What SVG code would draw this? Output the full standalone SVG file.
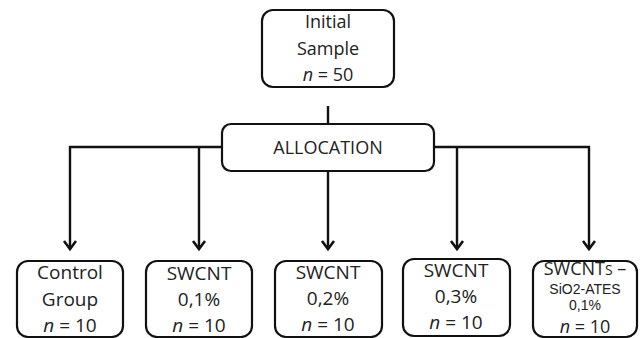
<svg xmlns="http://www.w3.org/2000/svg" width="640" height="338" viewBox="0 0 640 338">
<defs>
<style>
.box{fill:#fff;stroke:#111;stroke-width:2.2}
.t{font-family:"Open Sans","Liberation Sans",sans-serif;fill:#222;text-anchor:middle}
.s{font-family:"Liberation Sans","Open Sans",sans-serif;font-size:14px;fill:#222;text-anchor:middle}
.f18{font-size:18px}
.f19{font-size:19px}
.con{fill:none;stroke:#111;stroke-width:2.4}
.head{fill:none;stroke:#111;stroke-width:2.6;stroke-linejoin:miter}
</style>
</defs>
<g id="connectors">
<line class="con" x1="328" y1="106" x2="328" y2="124"/>
<polyline class="con" points="222,147 70,147 70,249"/>
<line class="con" x1="199" y1="147" x2="199" y2="249"/>
<line class="con" x1="328" y1="171" x2="328" y2="249"/>
<polyline class="con" points="434,147 589,147 589,249"/>
<line class="con" x1="457" y1="147" x2="457" y2="249"/>
<polyline class="head" points="64,241 70,249 76,241"/>
<polyline class="head" points="193,241 199,249 205,241"/>
<polyline class="head" points="322,241 328,249 334,241"/>
<polyline class="head" points="451,241 457,249 463,241"/>
<polyline class="head" points="583,241 589,249 595,241"/>
</g>
<g id="initial">
<rect class="box" x="262" y="10" width="132" height="77" rx="11"/>
<text class="t f18" x="328" y="28">Initial</text>
<text class="t f18" x="328" y="55">Sample</text>
<text class="t f18" x="328" y="81"><tspan font-style="italic">n</tspan> = 50</text>
</g>
<g id="allocation">
<rect class="box" x="222" y="124" width="212" height="47" rx="9"/>
<text class="t f18" x="328" y="154">ALLOCATION</text>
</g>
<g id="control">
<rect class="box" x="17" y="261" width="106" height="76" rx="11"/>
<text class="t f19" x="70" y="279">Control</text>
<text class="t f19" x="70" y="306">Group</text>
<text class="t f19" x="70" y="332"><tspan font-style="italic">n</tspan> = 10</text>
</g>
<g id="swcnt01">
<rect class="box" x="146" y="261" width="106" height="76" rx="11"/>
<text class="t f19" x="199" y="280">SWCNT</text>
<text class="t f19" x="199" y="306">0,1%</text>
<text class="t f19" x="199" y="332"><tspan font-style="italic">n</tspan> = 10</text>
</g>
<g id="swcnt02">
<rect class="box" x="275" y="261" width="107" height="76" rx="11"/>
<text class="t f19" x="328" y="279">SWCNT</text>
<text class="t f19" x="328" y="305">0,2%</text>
<text class="t f19" x="328" y="331"><tspan font-style="italic">n</tspan> = 10</text>
</g>
<g id="swcnt03">
<rect class="box" x="403" y="259" width="107" height="77" rx="11"/>
<text class="t f19" x="456" y="277">SWCNT</text>
<text class="t f19" x="456" y="303">0,3%</text>
<text class="t f19" x="456" y="329"><tspan font-style="italic">n</tspan> = 10</text>
</g>
<g id="swcnts-sio2">
<rect class="box" x="533" y="261" width="104" height="76" rx="11"/>
<text class="t f18" x="585" y="275">SWCNT<tspan font-size="14px">S</tspan> –</text>
<text class="s" x="585" y="294">SiO2-ATES</text>
<text class="s" x="585" y="310">0,1%</text>
<text class="t f18" x="585" y="333"><tspan font-style="italic">n</tspan> = 10</text>
</g>
</svg>
